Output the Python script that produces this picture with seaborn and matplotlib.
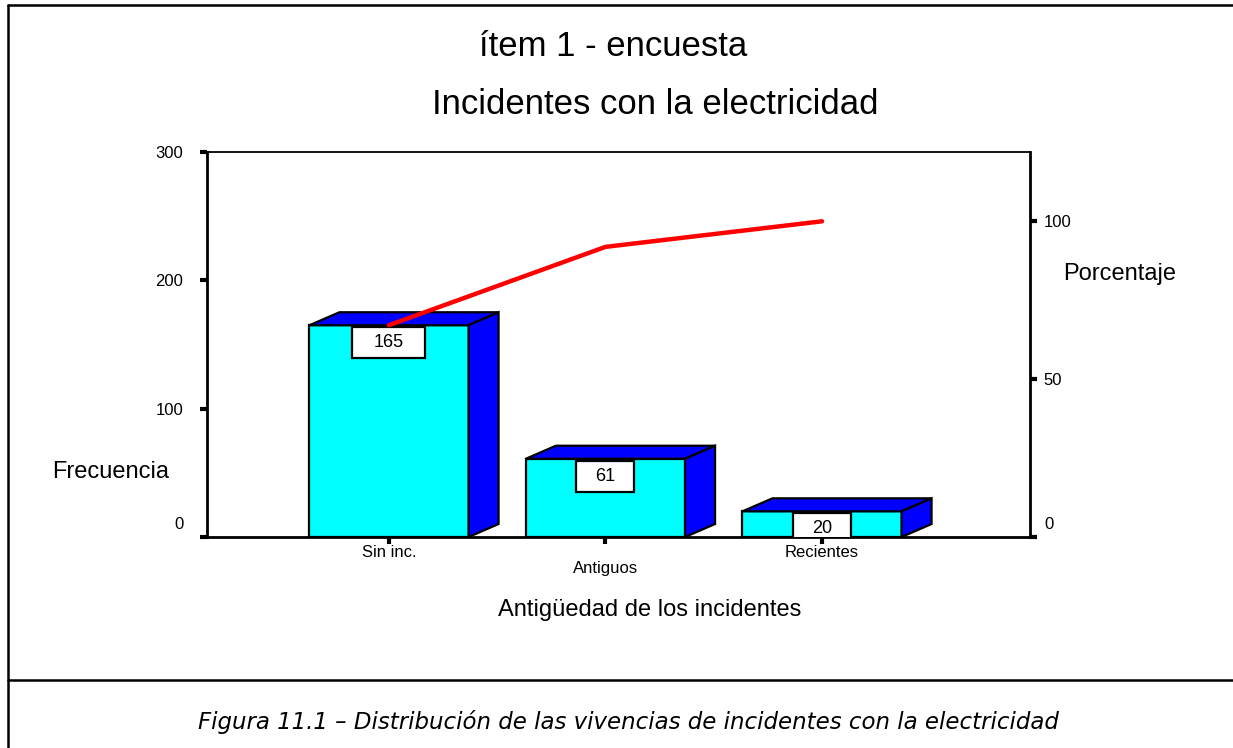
import matplotlib
matplotlib.use("Agg")
import matplotlib.pyplot as plt
import seaborn as sns
from matplotlib.patches import Polygon, Rectangle
from matplotlib.lines import Line2D
from matplotlib.transforms import ScaledTranslation

# datos de la encuesta (ítem 1)
categorias = ["Sin inc.", "Antiguos", "Recientes"]
frecuencias = [165, 61, 20]
porcentaje_acumulado = [67.1, 91.9, 100.0]
ticks_frecuencia = [0, 100, 200, 300]
ticks_porcentaje = [0, 50, 100]

titulo_1 = "ítem 1 - encuesta"
titulo_2 = "Incidentes con la electricidad"
etiqueta_x = "Antigüedad de los incidentes"
pie = "Figura 11.1 \u2013 Distribución de las vivencias de incidentes con la electricidad"

sns.set_style("white")
plt.rcParams["font.family"] = ["Liberation Sans", "DejaVu Sans"]
plt.rcParams["text.color"] = "black"
plt.rcParams["axes.labelcolor"] = "black"

W, H = 1233, 748
fig = plt.figure(figsize=(W / 100, H / 100), dpi=100)
ax = fig.add_axes([207 / W, 1 - 537 / H, (1030 - 207) / W, (537 - 152) / H])

total = sum(frecuencias)
y_max = 300
px_x = 216.5            # pixeles por categoría
px_y = 385 / y_max      # pixeles por unidad de frecuencia
dx = 30 / px_x          # profundidad 3D
dy = 13 / px_y

sns.barplot(x=categorias, y=frecuencias, ax=ax, color="#00FFFF", saturation=1,
            width=0.735, edgecolor="black", linewidth=1.6)

# caras superior y lateral de las barras
for bar, val in zip(list(ax.patches), frecuencias):
    x0 = bar.get_x()
    x1 = x0 + bar.get_width()
    h = bar.get_height()
    top = Polygon([(x0, h), (x1, h), (x1 + dx, h + dy), (x0 + dx, h + dy)],
                  closed=True, facecolor="#0000FF", edgecolor="black", lw=1.6)
    side = Polygon([(x1, 0), (x1 + dx, dy), (x1 + dx, h + dy), (x1, h)],
                   closed=True, facecolor="#0000FF", edgecolor="black", lw=1.6)
    ax.add_patch(top)
    ax.add_patch(side)
    # caja con el valor
    xc = x0 + bar.get_width() / 2
    bw = (15 * len(str(val)) + 28) / px_x
    bh = 31 / px_y
    ax.add_patch(Rectangle((xc - bw / 2, h - 1.5 - bh), bw, bh, facecolor="white",
                           edgecolor="black", lw=1.6, zorder=3))
    ax.text(xc, h - 1.5 - bh / 2, str(val), ha="center", va="center",
            fontsize=13, zorder=4)

ax.set_ylim(0, y_max)
ax.set_yticks(ticks_frecuencia)
ax.set_yticklabels([str(t) for t in ticks_frecuencia])
ax.tick_params(axis="y", left=True, direction="out", length=5, width=3,
               pad=12, labelsize=12, colors="black")
ax.tick_params(axis="x", bottom=True, direction="out", length=5, width=3,
               pad=1, labelsize=12, colors="black")
ax.xaxis.get_major_ticks()[1].set_pad(12)

for side_name in ["left", "bottom"]:
    ax.spines[side_name].set_linewidth(2)
    ax.spines[side_name].set_color("black")
ax.spines["top"].set_linewidth(1.3)
ax.spines["top"].set_color("black")
ax.spines["right"].set_visible(False)

ax.set_ylabel("Frecuencia", rotation=0, fontsize=17, ha="center", va="center")
ax.yaxis.set_label_coords(-0.1167, 0.169)
ax.set_xlabel(etiqueta_x, fontsize=17, va="center")
ax.xaxis.set_label_coords(0.538, -0.19)

# eje de porcentaje
ax2 = ax.twinx()
sns.lineplot(x=[0, 1, 2], y=porcentaje_acumulado, ax=ax2, color="#FF0000",
             linewidth=3.2, sort=False)
ax2.set_ylim(0, y_max / total * 100)
ax2.set_yticks(ticks_porcentaje)
ax2.set_yticklabels([str(t) for t in ticks_porcentaje])
ax2.tick_params(axis="y", right=True, direction="out", length=5, width=3,
                pad=5, labelsize=12, colors="black")
for s in ["left", "top", "bottom"]:
    ax2.spines[s].set_visible(False)
ax2.spines["right"].set_linewidth(2)
ax2.spines["right"].set_color("black")
ax2.set_ylabel("Porcentaje", rotation=0, fontsize=17, ha="center", va="center")
ax2.yaxis.set_label_coords(1.109, 0.683)
ax2.set_xlabel("")

ax.set_xlim(-0.8406, 2.9607)
ax2.set_xlim(-0.8406, 2.9607)

# el "0" aparece algo más arriba en ambos ejes
sube = ScaledTranslation(0, 14 / 100, fig.dpi_scale_trans)
for tk in ax.yaxis.get_major_ticks()[:1]:
    tk.label1.set_transform(tk.label1.get_transform() + sube)
for tk in ax2.yaxis.get_major_ticks()[:1]:
    tk.label2.set_transform(tk.label2.get_transform() + sube)

# títulos y pie
fig.text(613 / W, 1 - 47 / H, titulo_1, ha="center", va="center", fontsize=25)
fig.text(655 / W, 1 - 105 / H, titulo_2, ha="center", va="center", fontsize=25)
fig.text(628 / W, 1 - 722 / H, pie, ha="center", va="center", fontsize=16.5,
         style="italic", family=["DejaVu Sans"])

# marco
marco = dict(color="black", lw=1.8, transform=fig.transFigure)
fig.add_artist(Line2D([8 / W, 8 / W], [0, 1 - 5 / H], **marco))
fig.add_artist(Line2D([8 / W, 1], [1 - 5 / H, 1 - 5 / H], **marco))
fig.add_artist(Line2D([8 / W, 1], [1 - 680 / H, 1 - 680 / H], **marco))

fig.savefig("out.png", dpi=100)
